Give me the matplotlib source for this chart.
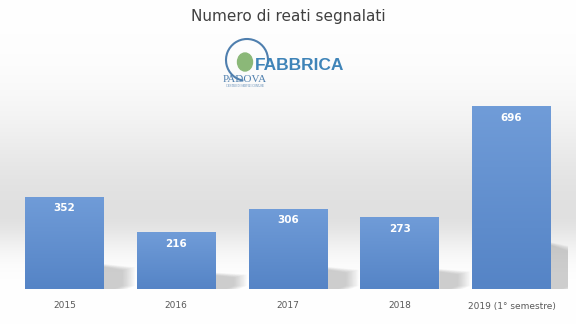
import numpy as np
import matplotlib
matplotlib.use("Agg")
import matplotlib.pyplot as plt
from matplotlib.patches import Ellipse, Arc

categories = ["2015", "2016", "2017", "2018", "2019 (1° semestre)"]
values = [352, 216, 306, 273, 696]
title = "Numero di reati segnalati"

W, H = 576, 324
fig = plt.figure(figsize=(W / 100, H / 100), dpi=100)

# background gradient (white top, grey band near baseline area, lighter at bottom)
bg = fig.add_axes([0, 0, 1, 1], zorder=-10)
yy = np.linspace(0, 1, 400)[:, None]  # 0 = top
up = np.exp(-((yy - 0.66) / 0.30) ** 2)
down = np.exp(-((yy - 0.66) / 0.11) ** 2)
prof = np.where(yy < 0.66, up, down)
g = 1 - 0.12 * prof
img = np.dstack([g, g, g]).clip(0, 1)
img = np.repeat(img, 2, axis=1)
bg.imshow(img, aspect="auto", extent=[0, 1, 0, 1], origin="upper")
bg.set_xlim(0, 1); bg.set_ylim(0, 1)
bg.axis("off")

ax = fig.add_axes([8.5 / W, 1 - 289 / H, (567.5 - 8.5) / W, (289 - 79) / H])
ax.set_facecolor("none")
x = np.arange(len(categories))
bars = ax.bar(x, values, width=0.705, color="#6592d2", zorder=3)
ax.set_xlim(-0.5, len(categories) - 0.5)
ax.set_ylim(0, 800)

grad = np.linspace(0, 1, 100)[:, None]
top = np.array([0x70, 0x9c, 0xd8]) / 255
bot = np.array([0x55, 0x84, 0xc6]) / 255
gimg = top[None, None, :] * (1 - grad[:, :, None]) + bot[None, None, :] * grad[:, :, None]
for b in bars:
    x0, w, h = b.get_x(), b.get_width(), b.get_height()
    im = ax.imshow(gimg, extent=[x0, x0 + w, 0, h], aspect="auto", origin="upper", zorder=4)
    im.set_clip_path(b)
    # soft perspective shadow to the right of the bar
    xr = x0 + w
    sh = 0.24 * h
    for k in range(10):
        d = 0.012 * k
        ax.fill([xr, xr + 0.10 + d, xr + 0.17 + d, xr + 0.17 + d, xr],
                [0, 0, 12, sh * 0.85 + d * 100, sh + d * 100],
                color="#6a6a6a", alpha=0.035, lw=0, zorder=2)
    ax.text(x0 + w / 2, h - 45, str(int(h)), ha="center", va="center",
            color="white", fontsize=7.5, fontweight="bold", zorder=5)

ax.set_xticks(x)
ax.set_xticklabels(categories, fontsize=6.5, color="#595959")
ax.tick_params(axis="x", length=0, pad=9)
ax.set_yticks([])
for s in ax.spines.values():
    s.set_visible(False)

fig.text(0.5, 1 - 16 / H, title, ha="center", va="center", fontsize=11, color="#404040")

# logo
lg = fig.add_axes([0, 0, 1, 1], zorder=5)
lg.set_xlim(0, W); lg.set_ylim(H, 0); lg.axis("off")
lg.add_patch(Arc((247, 60), 42, 42, theta1=100, theta2=370, color="#4f7fae", lw=1.5))
lg.add_patch(Ellipse((245, 62), 15, 18, color="#8bb878"))
lg.text(300, 66, "FABBRICA", ha="center", va="center", fontsize=12.5,
        color="#3f84b8", fontweight="bold", family="Liberation Sans")
lg.text(245, 79, "PADOVA", ha="center", va="center", fontsize=8,
        color="#4f7fae", family="Liberation Serif")
lg.text(245, 86, "CENTRO DI SERVIZI COMUNE", ha="center", va="center", fontsize=2,
        color="#4f7fae", family="Liberation Serif")

fig.savefig("out.png", dpi=100)
